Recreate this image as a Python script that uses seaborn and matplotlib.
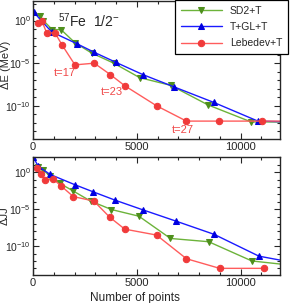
import numpy as np
import pandas as pd
import matplotlib
matplotlib.use("Agg")
import matplotlib.pyplot as plt
from matplotlib.ticker import LogLocator, NullFormatter, MultipleLocator
import seaborn as sns

sns.set_style("ticks")
plt.rcParams['font.family'] = ['Liberation Sans', 'DejaVu Sans']
plt.rcParams['mathtext.fontset'] = 'custom'
plt.rcParams['mathtext.rm'] = 'Liberation Sans'

# --- data (number of points, log10 of error) ---
# top panel: energy error
sd2_N = [320, 500, 930, 1350, 2020, 2820, 3890, 5140, 6630, 8430, 10510, 12500]
sd2_dE = [0.5, 0.0, -1.06, -1.06, -2.6, -3.8, -5.0, -6.7, -7.6, -9.9, -11.9, -11.9]
tgl_N = [30, 400, 900, 2100, 2930, 3990, 5300, 6810, 8700, 10830, 12500]
tgl_dE = [1.0, 0.0, -1.33, -2.7, -3.7, -4.9, -6.35, -7.8, -9.6, -11.8, -11.9]
leb_N = [225, 420, 660, 1060, 1410, 2020, 2950, 3730, 4420, 5950, 7390, 8960, 11040, 12500]
leb_dE = [-0.27, 0.0, -1.45, -1.45, -2.9, -5.2, -5.0, -6.35, -7.65, -10.0, -11.8, -11.8, -11.8, -11.8]

# bottom panel: angular momentum error
sd2_N2 = [225, 465, 820, 1300, 1910, 2770, 3780, 5100, 6620, 8460, 10540, 12500]
sd2_dJ = [0.7, 0.36, -0.54, -1.53, -2.5, -3.9, -5.05, -5.95, -8.96, -9.4, -12.0, -12.6]
tgl_N2 = [15, 255, 820, 2020, 2900, 3970, 5300, 6870, 8720, 10880, 12500]
tgl_dJ = [2.0, 0.8, -0.3, -1.7, -2.66, -3.8, -5.1, -6.6, -8.4, -11.35, -12.2]
leb_N2 = [210, 370, 580, 980, 1350, 1940, 2930, 3700, 4420, 5950, 7390, 8990, 11120]
leb_dJ = [0.5, -0.18, -1.08, -0.95, -1.85, -3.3, -3.9, -6.1, -7.7, -8.5, -11.7, -13.0, -13.0]

labels = ["SD2+T", "T+GL+T", "Lebedev+T"]
t_labels = ["t=17", "t=23", "t=27"]
t_N = [1540, 3800, 7210]
t_logE = [-6.1, -8.35, -12.8]

styles = {
    "SD2+T": dict(marker='v', color='#6cb33a', mfc='#4e8f1c', mec='#4e8f1c'),
    "T+GL+T": dict(marker='^', color='#1a1aff', mfc='#0000e0', mec='#0000e0'),
    "Lebedev+T": dict(marker='o', color='#ff5c5c', mfc='#f03a3a', mec='#f03a3a'),
}

fig = plt.figure(figsize=(2.91, 3.03), dpi=100)
ax1 = fig.add_axes([0.1134, 0.5413, 0.849, 0.4554])
ax2 = fig.add_axes([0.1134, 0.0924, 0.849, 0.3894])

top = [(sd2_N, sd2_dE), (tgl_N, tgl_dE), (leb_N, leb_dE)]
bot = [(sd2_N2, sd2_dJ), (tgl_N2, tgl_dJ), (leb_N2, leb_dJ)]

for ax, series in [(ax1, top), (ax2, bot)]:
    for lab, (n, e) in zip(labels, series):
        df = pd.DataFrame({"N": n, "err": 10.0 ** np.array(e)})
        st = styles[lab]
        sns.lineplot(data=df, x="N", y="err", ax=ax, sort=False, label=lab,
                     color=st['color'], marker=st['marker'], markersize=4.6,
                     markerfacecolor=st['mfc'], markeredgecolor=st['mec'],
                     linewidth=1.0, legend=False)
    ax.set_yscale('log')
    ax.set_xlim(0, 11900)
    ax.set_yticks([1e-10, 1e-5, 1e0])
    ax.yaxis.set_minor_locator(LogLocator(base=10, subs=(1.0,), numticks=40))
    ax.yaxis.set_minor_formatter(NullFormatter())
    ax.xaxis.set_major_locator(MultipleLocator(5000))
    ax.xaxis.set_minor_locator(MultipleLocator(1000))
    ax.tick_params(which='both', direction='in', top=True, right=True,
                   width=0.8, pad=2)
    ax.tick_params(axis='x', labelsize=8)
    ax.tick_params(axis='y', labelsize=7.5, pad=1.5)
    ax.tick_params(which='major', length=4)
    ax.tick_params(which='minor', length=2.5)
    for sp in ax.spines.values():
        sp.set_linewidth(1.0)
    ax.set_xlabel("")

ax1.set_ylim(10 ** -13.9, 10 ** 2.3)
ax2.set_ylim(10 ** -13.9, 10 ** 2.05)

ax1.set_ylabel("ΔE (MeV)", fontsize=8)
ax2.set_ylabel("ΔJJ", fontsize=8)
ax1.yaxis.set_label_coords(-0.09, 0.54)
ax2.yaxis.set_label_coords(-0.095, 0.5)
ax2.set_xlabel("Number of points", fontsize=8.5)
ax2.xaxis.set_label_coords(0.413, -0.14)

ax1.text(0.10, 0.86, "$^{57}$Fe  1/2$^{-}$", transform=ax1.transAxes,
         fontsize=10, ha='left', va='center')
for txt, n, e in zip(t_labels, t_N, t_logE):
    ax1.text(n, 10 ** e, txt, color='#f04848', fontsize=8, ha='center', va='center')

h, l = ax1.get_legend_handles_labels()
leg = fig.legend(h, l, loc='upper right', bbox_to_anchor=(288 / 291, 1.0),
                 fontsize=7.5, frameon=True, fancybox=False, framealpha=1,
                 edgecolor='black', borderaxespad=0, handlelength=3.9,
                 handletextpad=0.8, borderpad=0.55, labelspacing=0.6)
leg.get_frame().set_linewidth(0.9)

fig.savefig("out.png", dpi=100)
